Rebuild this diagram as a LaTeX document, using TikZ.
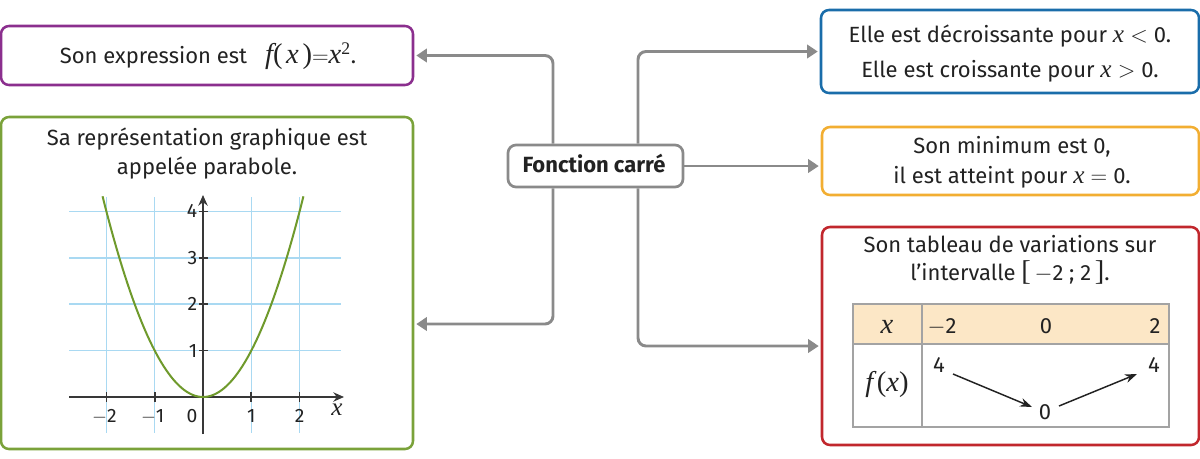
\documentclass[tikz,border=0pt]{standalone}
\usepackage{fontspec}
\setmainfont{Fira Sans}
\newfontfamily\tms[Scale=1.15]{Liberation Serif}
\newfontfamily\tmsb[Scale=1.3]{Liberation Serif}
\usetikzlibrary{arrows.meta,calc,fit}
\definecolor{cpurple}{HTML}{8B2F8E}
\definecolor{cgreen}{HTML}{7AA23A}
\definecolor{cblue}{HTML}{1A6DAA}
\definecolor{corange}{HTML}{F2AE32}
\definecolor{cred}{HTML}{C1272D}
\definecolor{cgray}{HTML}{8A8A8A}
\definecolor{gridblue}{HTML}{A9D9F2}
\definecolor{curvegreen}{HTML}{6F9A2C}
\definecolor{hdr}{HTML}{FCE7C6}
\definecolor{txt}{HTML}{222222}
\definecolor{tabgray}{HTML}{A3A3A3}
\newcommand\vx{{\tms\itshape x}}
\newcommand\vf{{\tms\itshape f}}
\newcommand\mminus{\ensuremath{-}}
\begin{document}
\begin{tikzpicture}[x=0.75pt,y=-0.75pt,
  every node/.style={font=\fontsize{16.5}{20}\selectfont, text=txt},
  box/.style={draw, line width=1.9pt, rounded corners=6pt, inner sep=0pt, fill=white},
  conn/.style={cgray, line width=2.2pt, rounded corners=6pt, -{Triangle[length=8pt,width=10pt]}, shorten >=1.5pt},
  lbl/.style={anchor=base, inner sep=0pt},
  glbl/.style={font=\fontsize{14.5}{17}\selectfont, inner sep=0pt},
  gridl/.style={gridblue, line width=1.1pt},
  axisl/.style={txt!90, line width=1.3pt},
  tabline/.style={tabgray, line width=1.1pt},
  tarrow/.style={txt, line width=1.1pt, -{Stealth[length=9pt,width=6.5pt]}}
]
\useasboundingbox (0,0) rectangle (1200,458);

% boxes
\node[box, draw=cpurple, fit={(1,26) (413,85)}] (expr) {};
\node[box, draw=cgreen, fit={(1,117) (413,449)}] (graph) {};
\node[box, draw=cblue, fit={(821,10) (1199,93)}] (sens) {};
\node[box, draw=corange, fit={(822,127) (1199,195)}] (mini) {};
\node[box, draw=cred, fit={(822,227) (1199,445)}] (tab) {};
\node[box, draw=cgray, line width=2pt, fit={(508,145) (683,187)}] (C) {};
\node[lbl, font=\fontsize{16.5}{20}\selectfont\bfseries] (Ct) at (594,172) {Fonction carré};

% connectors
\coordinate (lx) at (553,0);
\coordinate (rx) at (638,0);
\coordinate (lb) at (0,324);
\coordinate (rb) at (0,346);
\draw[conn] (C.north -| lx) |- (expr.east);
\draw[conn] (C.south -| lx) |- (graph.east |- lb);
\draw[conn] (C.north -| rx) |- (sens.west);
\draw[conn] (C.east) -- (C.east -| mini.west);
\draw[conn] (C.south -| rx) |- (tab.west |- rb);

% texts
\node[lbl] (t1) at (208,63) {Son expression est\;\; {\tmsb\itshape f}{\tmsb(}\,{\tmsb\itshape x}\,{\tmsb)}{\fontsize{19}{20}\selectfont$=$}{\tmsb\itshape x}\textsuperscript{\tms 2}.};
\node[lbl] (g1) at (207,145) {Sa représentation graphique est};
\node[lbl] (g2) at (207,174) {appelée parabole.};
\node[lbl] (s1) at (1010,42) {Elle est décroissante pour \vx\;$<$\;0.};
\node[lbl] (s2) at (1010,77) {Elle est croissante pour \vx\;$>$\;0.};
\node[lbl] (m1) at (1012,153) {Son minimum est 0,};
\node[lbl] (m2) at (1012,183) {il est atteint pour \vx\;$=$\;0.};
\node[lbl] (r1) at (1010,252) {Son tableau de variations sur};
\node[lbl] (r2) at (1010,280) {l’intervalle {\tmsb[}\,\mminus2 ; 2\,{\tmsb]}.};

% graph
\foreach \i in {-2,-1,1,2} \draw[gridl] ({203+48.3*\i},197) -- ({203+48.3*\i},433);
\foreach \j in {1,...,4} \draw[gridl] (69,{397-46.4*\j}) -- (341,{397-46.4*\j});
\draw[axisl, -{Stealth[length=8pt,width=7pt]}] (69,397) -- (344,397);
\draw[axisl, -{Stealth[length=8pt,width=7pt]}] (203,434) -- (203,195);
\foreach \i in {-2,-1,1,2} \draw[axisl] ({203+48.3*\i},392) -- ({203+48.3*\i},402);
\foreach \j in {1,...,4} \draw[axisl] (199,{397-46.4*\j}) -- (208,{397-46.4*\j});
\draw[curvegreen, line width=1.5pt] plot[domain=-2.08:2.08, samples=90] ({203+48.3*\x},{397-46.4*\x*\x});
\node[glbl, anchor=base] (xm2) at (104.4,422) {\mminus2};
\node[glbl, anchor=base] (xm1) at (152.7,422) {\mminus1};
\node[glbl, anchor=base] (x0) at (192,422) {0};
\node[glbl, anchor=base] (x1) at (251.3,422) {1};
\node[glbl, anchor=base] (x2) at (299.6,422) {2};
\node[glbl, anchor=base] (xl) at (337,415) {{\tmsb\itshape x}};
\foreach \j in {1,...,4} \node[glbl, anchor=east] (y\j) at (197.5,{397-46.4*\j}) {\j};

% table
\draw[tabline, fill=hdr] (853,304) rectangle (1169,344);
\draw[tabline] (853,304) rectangle (1169,427);
\draw[tabline] (922,304) -- (922,427);
\node[lbl] (hx) at (887,333) {{\tmsb\itshape x}};
\node[lbl] (hm2) at (942,333) {\mminus2};
\node[lbl] (h0) at (1046,333) {0};
\node[lbl] (h2) at (1155,333) {2};
\node[lbl] (fx) at (887,391) {{\tmsb\itshape f}\,{\tmsb(}{\tmsb\itshape x}{\tmsb)}};
\node[lbl] (v4a) at (939,372) {4};
\node[lbl] (v0) at (1045,419) {0};
\node[lbl] (v4b) at (1154,372) {4};
\draw[tarrow] ($(v4a.base)+(14,2)$) -- ($(v0.base)+(-13,-12)$);
\draw[tarrow] ($(v0.base)+(14,-13)$) -- ($(v4b.base)+(-17,2)$);
\end{tikzpicture}
\end{document}
